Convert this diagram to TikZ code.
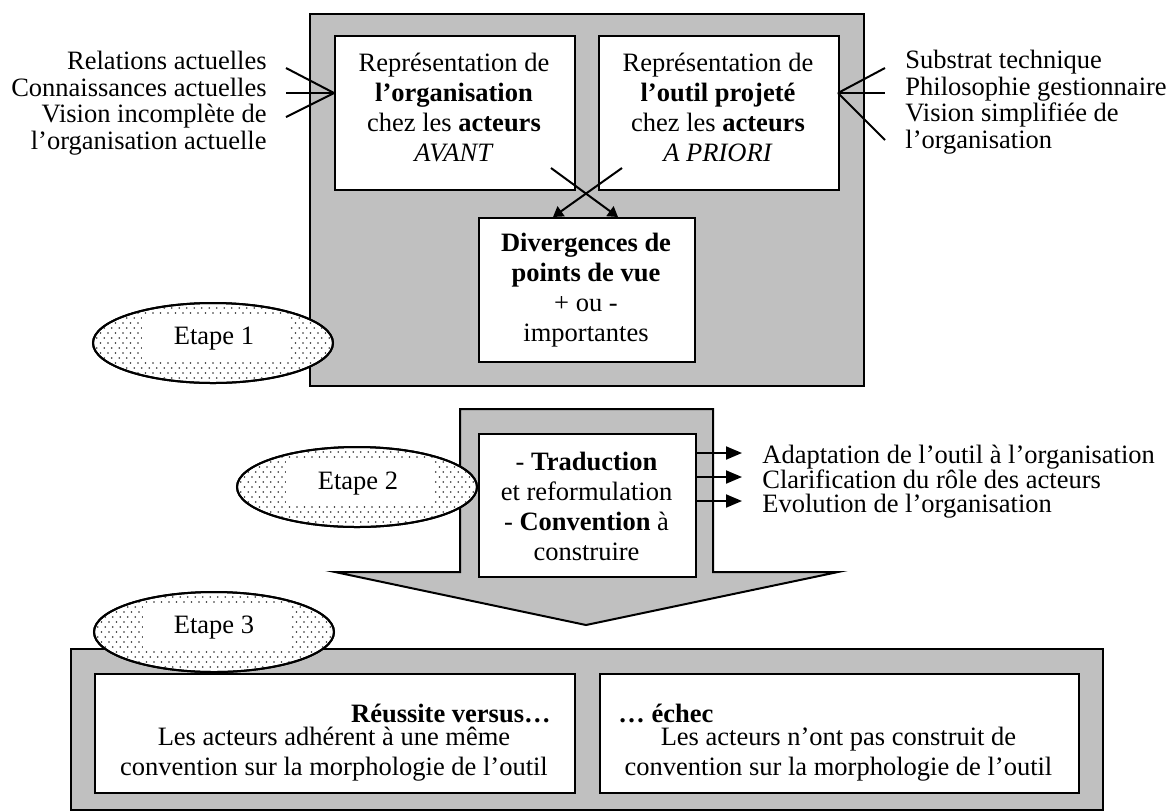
\documentclass[tikz,border=0pt]{standalone}
\usepackage{fontspec}
\setmainfont{Liberation Serif}
\usetikzlibrary{arrows.meta,shapes.geometric,calc}
\definecolor{panelgray}{RGB}{192,192,192}
\definecolor{dotgray}{RGB}{45,45,45}
\newcommand\boxfont{\fontsize{13.25pt}{15pt}\selectfont\lineskiplimit=-100pt}
\newcommand\sidefont{\fontsize{13.25pt}{13.25pt}\selectfont\lineskiplimit=-100pt}
\newcommand\listfont{\fontsize{13.25pt}{12.25pt}\selectfont\lineskiplimit=-100pt}
% stippled inside of an Etape ellipse, with a white panel behind the label
\newcommand\stipple[1]{%
  \begin{scope}
    \clip (#1.center) ellipse [x radius=59.5pt, y radius=19.5pt];
    \foreach \j in {-9,...,9}{%
      \foreach \i in {-17,...,17}{%
        \fill[dotgray] ($(#1.center)+({\i*3.75pt+mod(abs(\j),2)*1.875pt},{\j*2.5pt})$) circle (0.45pt);
      }%
    }%
    \fill[white] ($(#1.center)+(-35.5pt,-8.75pt)$) rectangle ($(#1.center)+(38.5pt,14.5pt)$);
  \end{scope}%
  \draw[line width=1pt] (#1.center) ellipse [x radius=60pt, y radius=20pt];%
}
\begin{document}
\begin{tikzpicture}[x=0.5pt,y=-0.5pt,
  panel/.style={draw=black,fill=panelgray,line width=1pt},
  whitebox/.style={draw=black,fill=white,line width=1pt,inner sep=0pt,anchor=north west},
  txt/.style={inner sep=0pt,font=\boxfont,align=center},
  sidetxt/.style={inner sep=0pt,font=\sidefont},
  listtxt/.style={inner sep=0pt,font=\listfont,align=left},
  conn/.style={line width=1pt},
  arr/.style={line width=1pt,-{Triangle[length=5pt,width=6pt]}},
  bigarr/.style={line width=1pt,-{Triangle[length=8pt,width=6.5pt]}},
  etape/.style={ellipse,draw=black,line width=1pt,fill=white,minimum width=120pt,minimum height=40pt,inner sep=0pt},
  etapetxt/.style={inner sep=0pt,font=\boxfont}
]
\useasboundingbox (0,0) rectangle (1174,811);

% ---------- Etape 1 ----------
\node[panel,anchor=north west,minimum width=277pt,minimum height=186pt,inner sep=0pt] (G1) at (309,13) {};
\node[whitebox,minimum width=120pt,minimum height=77pt] (A) at (334,35) {};
\node[whitebox,minimum width=120pt,minimum height=77pt] (B) at (598,35) {};
\node[whitebox,minimum width=108pt,minimum height=72pt] (C) at (478,217) {};

\node[txt] (Atxt) at (454,107) {Représentation de\\\textbf{l’organisation}\\chez les \textbf{acteurs}\\\textit{AVANT}};
\node[txt] (Btxt) at (718,107) {Représentation de\\\textbf{l’outil projeté}\\chez les \textbf{acteurs}\\\textit{A PRIORI}};
\node[txt] (Ctxt) at (586,290) {\textbf{Divergences de}\\\textbf{points de vue}\\+ ou -\\importantes};

\coordinate (a1) at (551,168);
\coordinate (c1) at (618,217);
\coordinate (b1) at (622,168);
\coordinate (c2) at (553,217);
\draw[arr] (a1) -- (c1);
\draw[arr] (b1) -- (c2);

\node[sidetxt,anchor=east,align=right] (Ltxt) at (267,103) {Relations actuelles\\Connaissances actuelles\\Vision incomplète de\\l’organisation actuelle};
\node[sidetxt,anchor=west,align=left] (Rtxt) at (905,102) {Substrat technique\\Philosophie gestionnaire\\Vision simplifiée de\\l’organisation};

\coordinate (Ain) at (334,93);
\coordinate (L1) at (286,68);
\coordinate (L2) at (286,93);
\coordinate (L3) at (286,117);
\draw[conn] (L1) -- (Ain);
\draw[conn] (L2) -- (Ain);
\draw[conn] (L3) -- (Ain);

\coordinate (Bin) at (838,93);
\coordinate (R1) at (885,68);
\coordinate (R2) at (885,93);
\coordinate (R3) at (885,140);
\draw[conn] (Bin) -- (R1);
\draw[conn] (Bin) -- (R2);
\draw[conn] (Bin) -- (R3);

\node[etape] (E1) at (213,343) {};
\stipple{E1}
\node[etapetxt] (E1t) at (214,339) {Etape 1};

% ---------- Etape 2 ----------
\draw[panel] (460,409) -- (713,409) -- (713,572) -- (838,572) -- (586,625) -- (335,572) -- (460,572) -- cycle;
\node[whitebox,minimum width=108.5pt,minimum height=71.5pt] (D) at (478,433) {};
\node[txt] (Dtxt) at (586.5,506) {- \textbf{Traduction}\\et reformulation\\- \textbf{Convention} à\\construire};

\coordinate (d1) at (695,453);
\coordinate (d2) at (695,477);
\coordinate (d3) at (695,501);
\coordinate (t1) at (742,453);
\coordinate (t2) at (742,477);
\coordinate (t3) at (742,501);
\draw[bigarr] (d1) -- (t1);
\draw[bigarr] (d2) -- (t2);
\draw[bigarr] (d3) -- (t3);

\node[listtxt,anchor=west] (Dlist) at (762,482) {Adaptation de l’outil à l’organisation\\Clarification du rôle des acteurs\\Evolution de l’organisation};

\node[etape] (E2) at (357,487) {};
\stipple{E2}
\node[etapetxt] (E2t) at (358,484) {Etape 2};

% ---------- Etape 3 ----------
\node[panel,anchor=north west,minimum width=516pt,minimum height=80.5pt,inner sep=0pt] (G3) at (70,648) {};
\node[whitebox,minimum width=240pt,minimum height=59.5pt] (E) at (94,673) {};
\node[whitebox,minimum width=239.5pt,minimum height=59.5pt] (F) at (599,673) {};

\node[txt,anchor=east] (Etitle) at (551,713) {\textbf{Réussite versus…}};
\node[txt] (Ebody) at (334,754) {Les acteurs adhérent à une même\\convention sur la morphologie de l’outil};
\node[txt,anchor=west] (Ftitle) at (618,713) {\textbf{… échec}};
\node[txt] (Fbody) at (838.5,754) {Les acteurs n’ont pas construit de\\convention sur la morphologie de l’outil};

\node[etape] (E3) at (214,632) {};
\stipple{E3}
\node[etapetxt] (E3t) at (214,628) {Etape 3};
\end{tikzpicture}
\end{document}
